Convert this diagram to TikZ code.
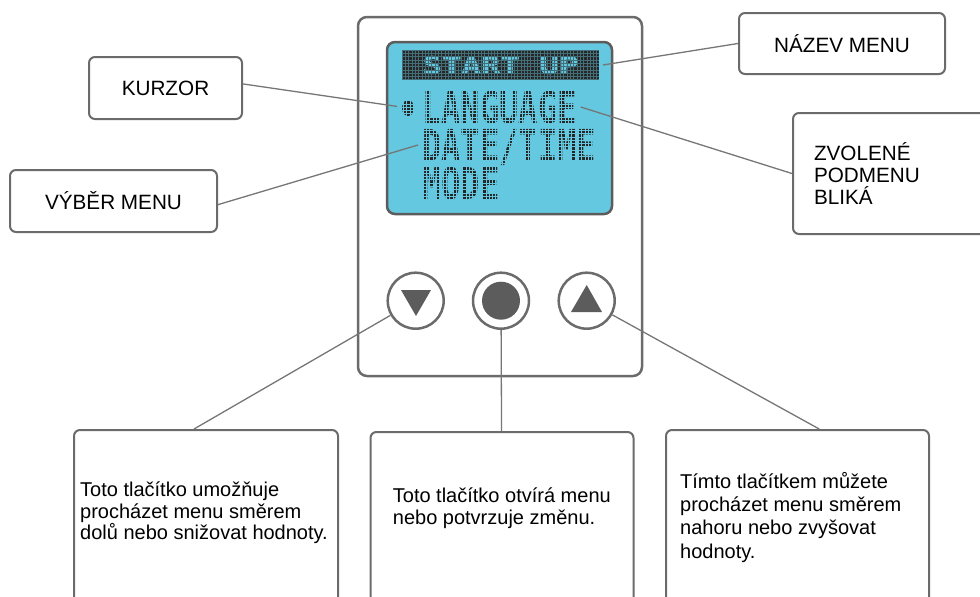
\documentclass[tikz,border=0pt]{standalone}
\usepackage{fontspec}
\setmainfont{Liberation Sans}
\newfontfamily\lcdfont[FakeStretch=0.73]{DejaVu Sans Mono}
\newfontfamily\lcdtitlefont[FakeStretch=1.35,FakeBold=1.8]{DejaVu Sans Mono}
\usetikzlibrary{shapes.geometric,calc}

\definecolor{framegray}{HTML}{6B6B6B}
\definecolor{linegray}{HTML}{767676}
\definecolor{lcdblue}{HTML}{64C8E0}
\definecolor{lcdink}{HTML}{262626}
\definecolor{keygray}{HTML}{5C5C5C}

\begin{document}
\begin{tikzpicture}[x=1pt, y=-1pt,
    namebox/.style={draw=framegray, line width=2pt, rounded corners=6pt, fill=white,
      font=\fontsize{20.7}{22}\selectfont},
    notebox/.style={draw=framegray, line width=2pt, rounded corners=6pt, fill=white,
      anchor=north west, minimum height=220},
    notetext/.style={anchor=north west, inner sep=0pt, align=left},
    callout/.style={draw=linegray, line width=1.3pt},
    button/.style={circle, draw=framegray, line width=2.5pt, fill=white,
      minimum size=56, inner sep=0pt},
    lcdline/.style={anchor=base west, inner sep=0pt, outer sep=4pt, text=lcdink,
      text height=32, text depth=0,
      font=\lcdfont\bfseries\fontsize{44}{44}\selectfont},
  ]
  \useasboundingbox (0,0) rectangle (980,597);

  % Device and screen
  \draw[framegray, line width=2.5pt, rounded corners=9pt] (358,17) rectangle (642,376);
  \draw[draw=keygray, fill=lcdblue, line width=2.5pt, rounded corners=8pt] (387,42) rectangle (612,214);

  \node[fill=lcdink, minimum width=197, minimum height=30, inner sep=0pt, outer sep=4pt,
    text=lcdblue, font=\lcdtitlefont\bfseries\fontsize{24}{24}\selectfont]
    (titlebar) at (500.5,65) {START UP};
  \node[ellipse, fill=lcdink, minimum width=12, minimum height=16, inner sep=0pt, outer sep=5pt]
    (cursor) at (408,108) {};
  \node[lcdline] (langline) at (418,123) {LANGUAGE};
  \node[lcdline] (dateline) at (418,161) {DATE/TIME};
  \node[lcdline] (modeline) at (418,199) {MODE};

  % Dot matrix
  \foreach \gx in {402,405.3,...,600}
    \draw[lcdblue!45!lcdink, line width=0.5pt] (\gx,50) -- (\gx,80);
  \foreach \gy in {50,53.3,...,80}
    \draw[lcdblue!45!lcdink, line width=0.5pt] (402,\gy) -- (599,\gy);
  \foreach \gx in {400,403.3,...,600}
    \draw[lcdblue, line width=0.55pt] (\gx,84) -- (\gx,204);
  \foreach \gy in {84,87.3,...,204}
    \draw[lcdblue, line width=0.55pt] (400,\gy) -- (600,\gy);

  % Buttons
  \node[button] (down) at (415.7,300.7) {};
  \node[button] (ok) at (501,300.7) {};
  \node[button] (up) at (586.7,300.7) {};
  \fill[keygray] (401,290) -- (431,290) -- (416,316) -- cycle;
  \fill[keygray] (ok.center) circle (19);
  \fill[keygray] (571,312) -- (602,312) -- (586.7,285) -- cycle;

  % Labels
  \node[namebox, minimum width=153, minimum height=62] (kurzor) at (165.5,88) {KURZOR};
  \node[namebox, minimum width=207, minimum height=62] (vyber) at (113.5,201) {VÝBĚR MENU};
  \node[namebox, minimum width=206, minimum height=61] (nazev) at (842,43.5) {NÁZEV MENU};
  \node[namebox, anchor=north west, minimum height=121, text width=168, inner xsep=21pt,
    align=left] (zvolene) at (792,112) {ZVOLENÉ\\PODMENU\\BLIKÁ};

  \node[notebox, minimum width=264] (downbox) at (73,429) {};
  \node[notebox, minimum width=263] (okbox) at (369.5,431) {};
  \node[notebox, minimum width=263] (upbox) at (665,429) {};

  \node[notetext, font=\fontsize{20}{21.5}\selectfont] (downtext) at (80,482)
    {Toto tlačítko umožňuje\\procházet menu směrem\\dolů nebo snižovat hodnoty.};
  \node[notetext, font=\fontsize{20}{21.8}\selectfont] (oktext) at (392.7,488)
    {Toto tlačítko otvírá menu\\nebo potvrzuje změnu.};
  \node[notetext, font=\fontsize{20}{23.3}\selectfont] (uptext) at (680,472)
    {Tímto tlačítkem můžete\\procházet menu směrem\\nahoru nebo zvyšovat\\hodnoty.};

  % Callouts
  \draw[callout] (kurzor.3) -- (cursor);
  \draw[callout] (vyber.-2) -- (dateline.west);
  \draw[callout] (nazev.west) -- (titlebar.east);
  \draw[callout] (zvolene.west) -- (langline.east);
  \draw[callout] (down) -- ($(downbox.north west)!0.455!(downbox.north east)$);
  \draw[callout] (ok) -- (okbox);
  \draw[callout] (up) -- ($(upbox.north west)!0.582!(upbox.north east)$);
\end{tikzpicture}
\end{document}
